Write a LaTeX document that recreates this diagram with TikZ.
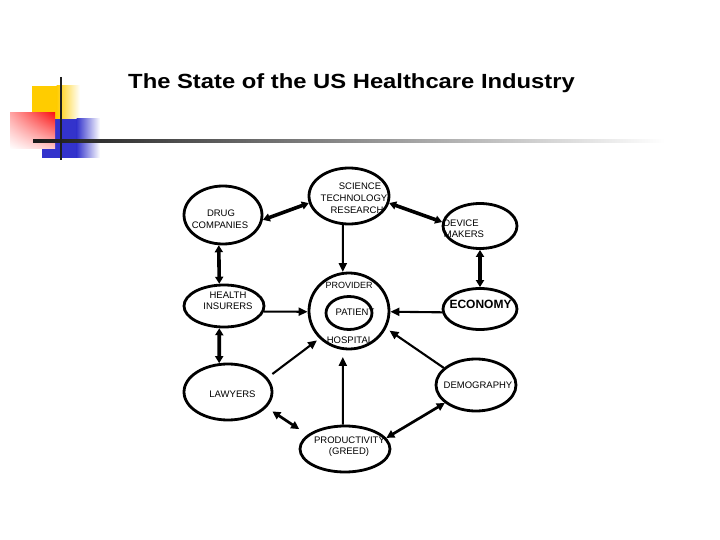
\documentclass[tikz,border=0pt]{standalone}
\usepackage{fontspec}
\setmainfont{Liberation Sans}
\usetikzlibrary{shapes.geometric,arrows.meta,shadings}
\definecolor{dyellow}{RGB}{255,204,0}
\definecolor{dblue}{RGB}{51,51,204}
\definecolor{dred}{RGB}{250,20,20}
\begin{document}
\begin{tikzpicture}[x=1pt,y=-1pt,
  oval/.style={ellipse, draw, line width=2.8pt, inner sep=0pt},
  lbl/.style={anchor=base, font=\fontsize{9.5}{11}\selectfont, inner sep=0pt},
  dbl/.style={{Triangle[length=7pt,width=8pt]}-{Triangle[length=7pt,width=8pt]}, line width=3.6pt},
  dblthin/.style={{Triangle[length=8pt,width=8pt]}-{Triangle[length=8pt,width=8pt]}, line width=2.7pt},
  one/.style={-{Triangle[length=9pt,width=8pt]}, line width=2.1pt}]
\useasboundingbox (0,0) rectangle (720,540);
% decoration
\fill[dyellow] (32,86) rectangle (57,125);
\shade[left color=dyellow, right color=white] (56.5,86) rectangle (80,125);
\fill[dblue] (42,119) rectangle (77,158);
\shade[left color=dblue, right color=white] (76.5,119) rectangle (100,158);
\shade[upper left=red!35, upper right=dred, lower left=white, lower right=red!20] (10,113) rectangle (55,149);
\shade[left color=black!90, right color=white] (33,139.5) rectangle (665,142.5);
\draw[line width=2.7pt, black!88] (61,77) -- (61,160);
% title
\node[anchor=base west, font=\bfseries\fontsize{20.5}{24}\selectfont, xscale=1.16, inner sep=0pt] (title) at (128,89) {The State of the US Healthcare Industry};
% labels
\node[lbl] (t1) at (221,217) {DRUG};
\node[lbl] (t2) at (220,229) {COMPANIES};
\node[lbl] (t3) at (360,190) {SCIENCE};
\node[lbl] (t4) at (354,202) {TECHNOLOGY};
\node[lbl] (t5) at (357,214) {RESEARCH};
\node[lbl] (t6) at (461,226) {DEVICE};
\node[lbl] (t7) at (464,237.5) {MAKERS};
\node[lbl] (t8) at (228,298) {HEALTH};
\node[lbl] (t9) at (228,309.5) {INSURERS};
\node[lbl, font=\fontsize{9}{11}\selectfont] (t10) at (349,288) {PROVIDER};
\node[lbl] (t11) at (355,315.5) {PATIENT};
\node[lbl] (t12) at (350,343) {HOSPITAL};
\node[lbl, font=\bfseries\fontsize{12}{14}\selectfont] (t13) at (480.5,308.3) {ECONOMY};
\node[lbl] (t14) at (232.5,397) {LAWYERS};
\node[lbl] (t15) at (478,388.5) {DEMOGRAPHY};
\node[lbl] (t16) at (349.5,443) {PRODUCTIVITY};
\node[lbl] (t17) at (349,454.5) {(GREED)};
% ovals
\node[oval, minimum width=78pt, minimum height=58pt] (drug) at (223,215) {};
\node[oval, minimum width=80pt, minimum height=56pt] (sci) at (349,196) {};
\node[oval, minimum width=74pt, minimum height=45pt] (dev) at (480,226) {};
\node[oval, minimum width=80pt, minimum height=42pt] (hlth) at (224,306) {};
\node[oval, minimum width=80pt, minimum height=76pt] (prov) at (349,311) {};
\node[oval, minimum width=46pt, minimum height=33pt] (pat) at (349,313) {};
\node[oval, minimum width=74pt, minimum height=41pt] (econ) at (480,309) {};
\node[oval, minimum width=88pt, minimum height=56pt] (law) at (228,392) {};
\node[oval, minimum width=80pt, minimum height=52pt] (demo) at (476,385) {};
\node[oval, minimum width=90pt, minimum height=46pt] (prod) at (345,449) {};
% connectors
\draw[dbl] (drug.-7) -- (sci.190);
\draw[dbl] (sci.-10) -- (dev.174);
\draw[one] (sci.258) -- (prov.99);
\draw[dbl] (drug.262) -- (hlth.102);
\draw[dbl] (dev.south) -- (econ.north);
\draw[one] (hlth.-8) -- (prov.181);
\draw[one] (econ.185) -- (prov.-1);
\draw[dbl] (hlth.258) -- (law.107);
\draw[one, shorten <=6pt, shorten >=3pt] (law.20) -- (prov.223);
\draw[one, shorten >=4pt] (demo.152) -- (prov.-25);
\draw[one, shorten >=7pt] (prod.95) -- (prov.261);
\draw[dblthin, shorten <=7pt, shorten >=10pt] (law.-22) -- (prod.159);
\draw[dblthin] (demo.210) -- (prod.15);
\end{tikzpicture}
\end{document}
